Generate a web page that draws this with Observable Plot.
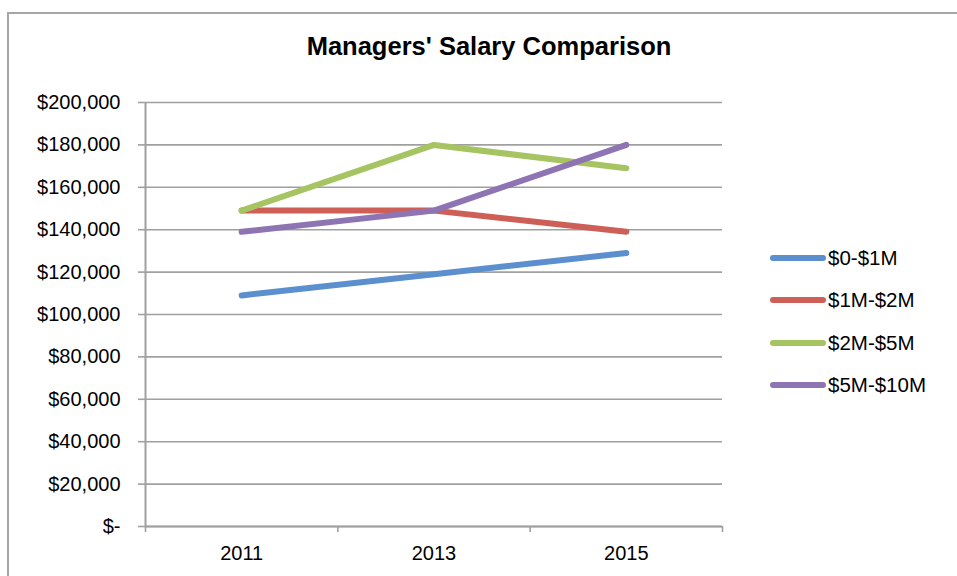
<!DOCTYPE html>
<html><head><meta charset="utf-8">
<script src="https://cdn.jsdelivr.net/npm/d3@7"></script>
<script src="https://cdn.jsdelivr.net/npm/@observablehq/plot@0.6"></script>
<style>
body{margin:0;background:#fff;font-family:"Liberation Sans",Arial,sans-serif;}
#wrap{position:relative;width:957px;height:576px;overflow:hidden;background:#fff}
#frame{position:absolute;left:7px;top:12px;width:980px;height:600px;border:2px solid #A6A6A6;box-sizing:border-box}
#title{position:absolute;left:0;top:32px;width:978px;text-align:center;font-weight:bold;font-size:25.5px;color:#000}
#chart{position:absolute;left:0;top:80px}
#legend{position:absolute;left:770px;top:237px}
.row{display:flex;align-items:center;height:42.3px;font-size:20.5px;color:#000}
.row svg{margin-right:1px}
</style>
</head><body>
<div id="wrap">
<div id="frame"></div>
<div id="title">Managers' Salary Comparison</div>
<div id="chart"></div>
<div id="legend"></div>
</div>
<script>
const years = [2011, 2013, 2015];
const seriesNames = ["$0-$1M", "$1M-$2M", "$2M-$5M", "$5M-$10M"];
const s0to1 = [109000, 119000, 129000];
const s1to2 = [149000, 149000, 139000];
const s2to5 = [149000, 180000, 169000];
const s5to10 = [139000, 149000, 180000];
const seriesColors = ["#5B8FCE", "#CE5F57", "#A7C463", "#8E74B2"];
const yTicks = [0, 20000, 40000, 60000, 80000, 100000, 120000, 140000, 160000, 180000, 200000];
const xBoundaries = [2010, 2012, 2014, 2016];

const allSeries = [s0to1, s1to2, s2to5, s5to10];
const data = [];
seriesNames.forEach((name, i) => {
  years.forEach((yr, j) => data.push({series: name, year: yr, value: allSeries[i][j]}));
});

const fmt = v => v === 0 ? "$-" : "$" + d3.format(",")(v);
const axisGray = "#A0A0A0";

const chart = Plot.plot({
  width: 957,
  height: 496,
  marginLeft: 145,
  marginRight: 235,
  marginTop: 22,
  marginBottom: 50,
  x: {domain: [xBoundaries[0], xBoundaries[xBoundaries.length - 1]], axis: null, label: null},
  y: {domain: [0, 200000], axis: null, label: null},
  color: {domain: seriesNames, range: seriesColors},
  style: {fontFamily: "'Liberation Sans', Arial, sans-serif", fontSize: "20px", color: "#000", background: "transparent"},
  marks: [
    Plot.gridY(yTicks, {stroke: axisGray, strokeOpacity: 1, strokeWidth: 1.6}),
    Plot.axisY(yTicks, {tickSize: 7, tickPadding: 18, tickFormat: fmt, stroke: axisGray, strokeWidth: 1.6, fill: "#000", fontSize: 20, label: null}),
    Plot.ruleX([xBoundaries[0]], {stroke: axisGray, strokeWidth: 2}),
    Plot.ruleY([0], {stroke: axisGray, strokeWidth: 2}),
    Plot.axisX(xBoundaries, {tickSize: 6, tickFormat: () => "", stroke: axisGray, strokeWidth: 1.6, label: null}),
    Plot.axisX(years, {tickSize: 0, tickPadding: 19, tickFormat: d => String(d), fill: "#000", fontSize: 20, label: null}),
    Plot.line(data, {x: "year", y: "value", z: "series", stroke: "series", strokeWidth: 6, strokeLinecap: "round", strokeLinejoin: "round"})
  ]
});
document.getElementById("chart").appendChild(chart);

const legend = document.getElementById("legend");
seriesNames.forEach((name, i) => {
  const row = document.createElement("div");
  row.className = "row";
  row.innerHTML = `<svg width="57" height="10"><line x1="3" y1="5" x2="53" y2="5" stroke="${seriesColors[i]}" stroke-width="6" stroke-linecap="round"/></svg><span></span>`;
  row.querySelector("span").textContent = name;
  legend.appendChild(row);
});
</script>
</body></html>
